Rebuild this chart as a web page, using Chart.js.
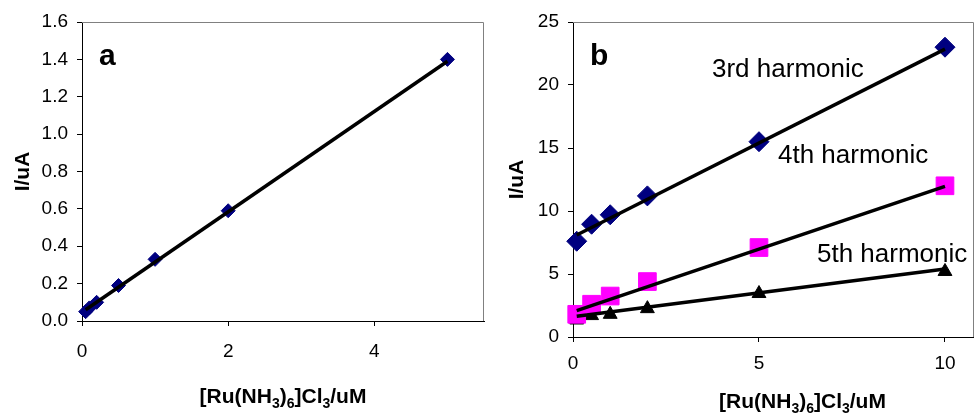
<!DOCTYPE html>
<html>
<head>
<meta charset="utf-8">
<script src="https://cdn.jsdelivr.net/npm/chart.js@4"></script>
<style>
  html, body { margin: 0; padding: 0; background: #fff; }
  #wrap { position: relative; width: 974px; height: 413px; }
  canvas { position: absolute; top: 0; }
  #chartA { left: 0; }
  #chartB { left: 487px; }
</style>
</head>
<body>
<div id="wrap">
  <canvas id="chartA" width="487" height="413"></canvas>
  <canvas id="chartB" width="487" height="413"></canvas>
</div>
<script>
// panel a : single calibration
const concA = [0.05, 0.1, 0.2, 0.5, 1, 2, 5];
const currentA = [0.05, 0.07, 0.1, 0.19, 0.33, 0.59, 1.40];
const trendAx = [0.05, 5];
const trendAy = [0.06, 1.39];
const xTicksA = [0, 2, 4];
const yTicksA = [0, 0.2, 0.4, 0.6, 0.8, 1.0, 1.2, 1.4, 1.6];

// panel b : harmonics
const concB = [0.1, 0.5, 1, 2, 5, 10];
const third = [7.6, 8.95, 9.7, 11.2, 15.5, 23.0];
const fourth = [1.8, 2.6, 3.25, 4.4, 7.1, 12.0];
const fifth = [1.35, 1.7, 1.8, 2.25, 3.45, 5.2];
const trendBx = [0.1, 10];
const trend3 = [8.1, 22.85];
const trend4 = [2.1, 11.95];
const trend5 = [1.65, 5.4];
const xTicksB = [0, 5, 10];
const yTicksB = [0, 5, 10, 15, 20, 25];

const FONT = "'Liberation Sans', Arial, sans-serif";

const pts = (xs, ys) => xs.map((x, i) => ({ x: x, y: ys[i] }));

function axis(ticks, min, max, fitSize, isX, fmt, pad) {
  return {
    type: "linear",
    min: min,
    max: max,
    afterBuildTicks: (scale) => {
      scale.ticks = ticks.map((v) => ({ value: v }));
    },
    afterFit: (scale) => {
      if (isX) scale.height = fitSize;
      else scale.width = fitSize;
    },
    grid: {
      drawOnChartArea: false,
      drawTicks: true,
      tickLength: 5,
      color: "#000",
    },
    border: { display: true, color: "#000", width: 1 },
    ticks: {
      color: "#000",
      font: { family: FONT, size: 19 },
      padding: pad,
      maxRotation: 0,
      callback: fmt,
    },
  };
}

// axis titles, panel letter, frame and labels
function textPlugin(opts) {
  return {
    id: "texts",
    afterDraw(chart) {
      const ctx = chart.ctx;
      const a = chart.chartArea;
      ctx.save();
      // frame (top + right)
      ctx.strokeStyle = "#808080";
      ctx.lineWidth = 1;
      ctx.beginPath();
      ctx.moveTo(a.left, a.top + 0.5);
      ctx.lineTo(a.right - 0.5, a.top + 0.5);
      ctx.lineTo(a.right - 0.5, a.bottom);
      ctx.stroke();

      ctx.fillStyle = "#000";
      // y title
      ctx.save();
      ctx.translate(opts.yTitleX, (a.top + a.bottom) / 2);
      ctx.rotate(-Math.PI / 2);
      ctx.font = "bold 21px " + FONT;
      ctx.textAlign = "center";
      ctx.textBaseline = "middle";
      ctx.fillText("I/uA", 0, 0);
      ctx.restore();

      // x title with subscripts
      const parts = [
        ["[Ru(NH", false], ["3", true], [")", false], ["6", true],
        ["]Cl", false], ["3", true], ["/uM", false],
      ];
      const big = "bold 21px " + FONT;
      const small = "bold 14px " + FONT;
      let w = 0;
      parts.forEach((p) => {
        ctx.font = p[1] ? small : big;
        w += ctx.measureText(p[0]).width;
      });
      let x = (a.left + a.right) / 2 - w / 2 + (opts.xTitleShift || 0);
      ctx.textAlign = "left";
      ctx.textBaseline = "alphabetic";
      parts.forEach((p) => {
        ctx.font = p[1] ? small : big;
        ctx.fillText(p[0], x, opts.xTitleY + (p[1] ? 5 : 0));
        x += ctx.measureText(p[0]).width;
      });

      // panel letter
      ctx.font = "bold 30px " + FONT;
      ctx.fillText(opts.letter, opts.letterX, 65);

      // extra labels
      ctx.font = "26px " + FONT;
      (opts.labels || []).forEach((l) => ctx.fillText(l[0], l[1], l[2]));
      ctx.restore();
    },
  };
}

new Chart(document.getElementById("chartA"), {
  type: "scatter",
  data: {
    datasets: [
      {
        data: pts(trendAx, trendAy),
        showLine: true,
        borderColor: "#000",
        borderWidth: 3.5,
        pointRadius: 0,
        order: 0,
        clip: false,
      },
      {
        data: pts(concA, currentA),
        pointStyle: "rectRot",
        pointRadius: 7,
        backgroundColor: "#000080",
        borderColor: "#000080",
        borderWidth: 1,
        order: 1,
        clip: false,
      },
    ],
  },
  options: {
    responsive: false,
    animation: false,
    layout: { autoPadding: false, padding: { top: 22, right: 3, left: 0, bottom: 0 } },
    plugins: { legend: { display: false }, tooltip: { enabled: false } },
    scales: {
      x: axis(xTicksA, 0, 5.5, 92, true, (v) => v, 14),
      y: axis(yTicksA, 0, 1.6, 82, false, (v) => Number(v).toFixed(1), 9),
    },
  },
  plugins: [textPlugin({ yTitleX: 23, xTitleY: 403, letter: "a", letterX: 99 })],
});

new Chart(document.getElementById("chartB"), {
  type: "scatter",
  data: {
    datasets: [
      { data: pts(trendBx, trend3), showLine: true, borderColor: "#000", borderWidth: 3.5, pointRadius: 0, order: 0, clip: false },
      { data: pts(trendBx, trend4), showLine: true, borderColor: "#000", borderWidth: 3.5, pointRadius: 0, order: 0, clip: false },
      { data: pts(trendBx, trend5), showLine: true, borderColor: "#000", borderWidth: 3.5, pointRadius: 0, order: 0, clip: false },
      {
        data: pts(concB, third),
        pointStyle: "rectRot",
        pointRadius: 10,
        backgroundColor: "#000080",
        borderColor: "#000080",
        borderWidth: 1,
        order: 1,
        clip: false,
      },
      {
        data: pts(concB, fourth),
        pointStyle: "rect",
        pointRadius: 12.5,
        backgroundColor: "#ff00ff",
        borderColor: "#ff00ff",
        borderWidth: 1,
        order: 1,
        clip: false,
      },
      {
        data: pts(concB, fifth),
        pointStyle: "triangle",
        pointRadius: 8,
        backgroundColor: "#000",
        borderColor: "#000",
        borderWidth: 1,
        order: 1,
        clip: false,
      },
    ],
  },
  options: {
    responsive: false,
    animation: false,
    layout: { autoPadding: false, padding: { top: 22, right: 0, left: 0, bottom: 0 } },
    plugins: { legend: { display: false }, tooltip: { enabled: false } },
    scales: {
      x: axis(xTicksB, 0, 10.78, 76, true, (v) => v, 10),
      y: axis(yTicksB, 0, 25, 86, false, (v) => v, 9),
    },
  },
  plugins: [
    textPlugin({
      yTitleX: 30,
      xTitleY: 408,
      xTitleShift: 29,
      letter: "b",
      letterX: 103,
      labels: [
        ["3rd harmonic", 225, 77],
        ["4th harmonic", 291, 163],
        ["5th harmonic", 330, 262],
      ],
    }),
  ],
});
</script>
</body>
</html>
